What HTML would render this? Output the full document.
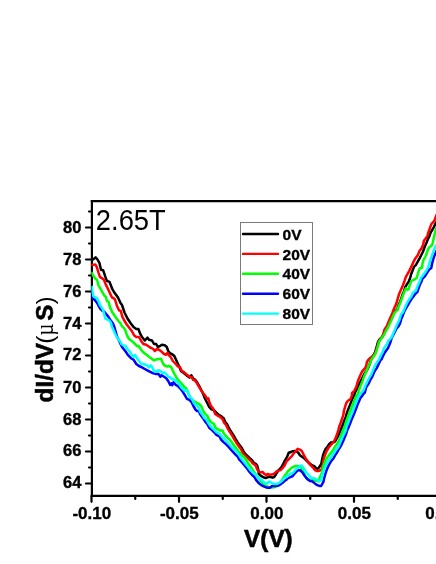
<!DOCTYPE html>
<html><head><meta charset="utf-8"><title>dI/dV vs V at 2.65T</title>
<style>
html,body{margin:0;padding:0;background:#fff;}
body{width:436px;height:564px;overflow:hidden;position:relative;font-family:"Liberation Sans",sans-serif;}
svg{position:absolute;left:0;top:0;display:block;}
text{font-family:"Liberation Sans",sans-serif;fill:#000;}
.tl{font-size:17px;font-weight:bold;stroke:#000;stroke-width:0.35px;}
.yt{font-size:16.5px;font-weight:bold;stroke:#000;stroke-width:0.35px;}
.lg{font-size:15.5px;font-weight:bold;stroke:#000;stroke-width:0.35px;}
.ttl{font-size:28px;}
.xl{font-size:24.3px;font-weight:bold;stroke:#000;stroke-width:0.55px;}
.yl{font-size:24.3px;font-weight:bold;stroke:#000;stroke-width:0.5px;}
.yr{font-size:24.3px;font-weight:normal;}
.mu{font-family:"Liberation Serif",serif;font-size:26px;font-weight:normal;}
</style></head><body>
<svg width="436" height="564" viewBox="0 0 436 564" style="will-change:transform">
<defs><clipPath id="pc"><rect x="91.4" y="201" width="360" height="295"/></clipPath></defs>
<rect x="0" y="0" width="436" height="564" fill="#fff"/>
<line x1="91.9" y1="200.1" x2="91.9" y2="497.1" stroke="#000" stroke-width="2.2"/>
<line x1="90.8" y1="201.2" x2="436" y2="201.2" stroke="#000" stroke-width="2.2"/>
<line x1="90.8" y1="495.9" x2="436" y2="495.9" stroke="#000" stroke-width="2.2"/>
<line x1="86" y1="483.5" x2="92" y2="483.5" stroke="#000" stroke-width="2.2" stroke-linecap="round"/>
<text x="81.4" y="488.1" text-anchor="end" class="yt">64</text>
<line x1="89" y1="467.5" x2="92" y2="467.5" stroke="#000" stroke-width="2.2" stroke-linecap="round"/>
<line x1="86" y1="451.5" x2="92" y2="451.5" stroke="#000" stroke-width="2.2" stroke-linecap="round"/>
<text x="81.4" y="455.9" text-anchor="end" class="yt">66</text>
<line x1="89" y1="435.5" x2="92" y2="435.5" stroke="#000" stroke-width="2.2" stroke-linecap="round"/>
<line x1="86" y1="419.5" x2="92" y2="419.5" stroke="#000" stroke-width="2.2" stroke-linecap="round"/>
<text x="81.4" y="424.7" text-anchor="end" class="yt">68</text>
<line x1="89" y1="403.5" x2="92" y2="403.5" stroke="#000" stroke-width="2.2" stroke-linecap="round"/>
<line x1="86" y1="387.5" x2="92" y2="387.5" stroke="#000" stroke-width="2.2" stroke-linecap="round"/>
<text x="81.4" y="392.6" text-anchor="end" class="yt">70</text>
<line x1="89" y1="371.5" x2="92" y2="371.5" stroke="#000" stroke-width="2.2" stroke-linecap="round"/>
<line x1="86" y1="355.5" x2="92" y2="355.5" stroke="#000" stroke-width="2.2" stroke-linecap="round"/>
<text x="81.4" y="360.4" text-anchor="end" class="yt">72</text>
<line x1="89" y1="339.5" x2="92" y2="339.5" stroke="#000" stroke-width="2.2" stroke-linecap="round"/>
<line x1="86" y1="323.5" x2="92" y2="323.5" stroke="#000" stroke-width="2.2" stroke-linecap="round"/>
<text x="81.4" y="328.6" text-anchor="end" class="yt">74</text>
<line x1="89" y1="307.5" x2="92" y2="307.5" stroke="#000" stroke-width="2.2" stroke-linecap="round"/>
<line x1="86" y1="291.5" x2="92" y2="291.5" stroke="#000" stroke-width="2.2" stroke-linecap="round"/>
<text x="81.4" y="297.0" text-anchor="end" class="yt">76</text>
<line x1="89" y1="275.5" x2="92" y2="275.5" stroke="#000" stroke-width="2.2" stroke-linecap="round"/>
<line x1="86" y1="259.5" x2="92" y2="259.5" stroke="#000" stroke-width="2.2" stroke-linecap="round"/>
<text x="81.4" y="265.0" text-anchor="end" class="yt">78</text>
<line x1="89" y1="243.5" x2="92" y2="243.5" stroke="#000" stroke-width="2.2" stroke-linecap="round"/>
<line x1="86" y1="227.5" x2="92" y2="227.5" stroke="#000" stroke-width="2.2" stroke-linecap="round"/>
<text x="81.4" y="233.1" text-anchor="end" class="yt">80</text>
<line x1="89" y1="211.5" x2="92" y2="211.5" stroke="#000" stroke-width="2.2" stroke-linecap="round"/>
<line x1="91.5" y1="496" x2="91.5" y2="501.8" stroke="#000" stroke-width="2.2" stroke-linecap="round"/>
<text x="91.8" y="519.0" text-anchor="middle" class="tl">-0.10</text>
<line x1="135.25" y1="496" x2="135.25" y2="498.9" stroke="#000" stroke-width="2.2" stroke-linecap="round"/>
<line x1="179.0" y1="496" x2="179.0" y2="501.8" stroke="#000" stroke-width="2.2" stroke-linecap="round"/>
<text x="179.3" y="519.0" text-anchor="middle" class="tl">-0.05</text>
<line x1="222.75" y1="496" x2="222.75" y2="498.9" stroke="#000" stroke-width="2.2" stroke-linecap="round"/>
<line x1="266.5" y1="496" x2="266.5" y2="501.8" stroke="#000" stroke-width="2.2" stroke-linecap="round"/>
<text x="266.8" y="519.0" text-anchor="middle" class="tl">0.00</text>
<line x1="310.25" y1="496" x2="310.25" y2="498.9" stroke="#000" stroke-width="2.2" stroke-linecap="round"/>
<line x1="354.0" y1="496" x2="354.0" y2="501.8" stroke="#000" stroke-width="2.2" stroke-linecap="round"/>
<text x="354.3" y="519.0" text-anchor="middle" class="tl">0.05</text>
<line x1="397.75" y1="496" x2="397.75" y2="498.9" stroke="#000" stroke-width="2.2" stroke-linecap="round"/>
<line x1="441.5" y1="496" x2="441.5" y2="501.8" stroke="#000" stroke-width="2.2" stroke-linecap="round"/>
<text x="441.8" y="519.0" text-anchor="middle" class="tl">0.10</text>
<g clip-path="url(#pc)">
<polyline points="91.0,260.2 92.5,259.8 95.6,257.4 97.5,259.5 99.4,262.8 101.0,269.7 103.1,270.2 105.3,276.6 106.9,280.9 109.5,281.9 112.2,288.8 114.0,292.0 118.0,297.5 120.5,303.0 122.0,305.0 124.5,312.5 127.5,318.5 130.5,323.0 133.5,327.0 136.3,329.0 138.4,329.0 140.0,333.4 142.0,337.0 144.8,340.5 147.5,337.7 149.0,339.8 152.0,340.5 154.0,344.0 156.2,344.0 157.8,347.0 159.7,346.2 161.8,344.8 164.7,345.2 166.8,347.0 168.2,351.0 170.4,353.5 172.5,354.5 174.3,356.0 176.4,360.6 178.0,364.0 179.6,367.6 181.1,371.2 183.8,373.0 186.6,375.4 189.5,377.6 191.3,375.3 193.2,378.5 195.0,379.5 197.2,382.5 199.2,386.0 201.2,390.0 203.0,393.5 204.8,398.2 207.0,402.5 209.2,407.0 211.0,409.0 213.5,410.0 218.8,414.9 221.1,416.1 223.8,418.5 225.0,421.7 227.0,424.1 228.6,427.4 230.2,430.2 231.8,432.6 233.6,435.4 235.4,438.6 237.1,441.4 238.6,443.8 240.1,445.8 242.1,448.6 243.7,451.9 246.3,455.0 248.5,457.0 250.4,458.8 252.2,460.4 253.5,462.5 255.5,463.7 257.1,465.3 258.5,470.5 258.8,473.9 260.6,475.6 262.9,477.0 265.6,478.1 268.1,477.0 270.1,476.8 272.5,477.7 274.1,477.0 275.6,475.0 277.0,472.5 279.0,469.8 281.3,467.3 283.3,463.9 285.0,460.3 287.1,456.9 288.7,452.8 291.1,452.0 292.7,451.2 295.0,451.0 296.8,451.5 298.3,452.8 299.9,455.2 302.4,456.9 304.5,458.5 306.5,460.5 308.5,462.5 310.4,464.0 312.3,465.3 314.2,466.2 316.0,468.2 317.6,468.8 319.1,467.3 321.3,464.0 322.2,459.1 323.1,455.1 324.2,452.0 325.7,448.9 327.5,446.7 329.3,444.0 331.0,442.5 332.8,442.2 334.3,442.0 335.1,441.3 337.0,438.1 338.6,434.9 340.1,431.7 341.5,428.0 343.0,424.3 344.3,420.5 345.9,416.8 346.8,413.1 348.2,409.4 349.7,405.6 351.2,401.9 352.6,398.4 354.3,395.3 354.8,393.0 356.6,389.5 358.3,386.0 360.3,382.0 362.3,378.0 364.3,374.0 366.3,371.0 368.1,368.0 369.3,365.0 371.8,357.7 373.6,355.0 375.0,352.4 376.0,349.2 377.1,345.4 378.1,341.7 379.7,339.1 382.2,336.9 384.0,333.7 385.8,330.0 387.7,326.8 389.3,323.1 390.9,319.9 392.5,316.2 393.9,313.0 395.6,310.9 397.5,309.3 398.1,306.1 399.6,302.9 400.8,300.0 402.4,294.8 404.2,291.0 405.1,287.3 407.0,284.1 408.8,281.5 410.2,277.8 411.2,274.0 412.7,270.3 414.1,266.6 415.9,265.0 417.6,261.8 419.7,258.1 421.3,255.0 422.9,251.8 424.3,248.0 425.7,244.4 426.9,241.7 427.9,239.1 429.5,235.9 430.6,232.7 432.5,229.5 434.1,226.6 435.4,223.9 437.0,221.0" fill="none" stroke="#000" stroke-width="2.5" stroke-linejoin="round" stroke-linecap="butt"/>
<polyline points="91.0,265.0 93.0,264.9 95.2,264.4 96.8,267.0 98.4,272.3 100.0,277.1 102.0,278.2 104.0,279.8 105.8,284.6 107.9,288.8 110.1,293.6 111.9,297.3 113.8,298.4 115.0,299.5 117.0,306.0 119.0,310.3 120.8,311.0 122.3,316.6 124.0,320.0 126.4,324.0 129.2,327.7 132.0,331.3 134.2,335.5 136.3,337.0 139.0,337.0 141.3,341.2 143.4,344.0 146.2,344.8 148.4,346.2 150.5,347.6 153.3,349.0 154.8,351.0 156.9,349.0 159.0,349.7 161.8,351.8 164.0,354.0 166.0,354.7 167.5,352.8 169.0,355.4 171.0,357.5 172.8,361.0 175.7,364.0 177.8,366.3 180.0,367.0 181.5,370.6 184.2,372.4 187.0,374.8 189.9,377.0 191.6,376.9 193.0,379.8 194.8,380.2 197.0,383.3 199.0,386.9 201.2,390.4 203.3,393.3 205.5,396.0 206.9,398.8 208.3,398.4 209.2,401.8 211.0,406.0 213.3,408.9 215.2,414.0 217.7,415.6 220.0,416.8 222.7,419.2 223.9,422.4 225.9,424.8 227.5,428.1 229.1,430.9 230.7,433.3 232.5,436.1 234.3,439.3 236.0,442.1 237.5,444.5 239.0,446.5 241.0,449.3 242.6,452.6 245.2,455.7 247.4,457.7 249.3,459.5 251.1,461.1 252.4,463.2 254.4,464.4 256.0,466.0 257.0,469.1 258.6,471.5 260.6,472.5 262.5,471.9 264.3,473.9 266.0,474.8 267.9,473.9 269.7,474.8 272.0,474.6 274.6,473.5 276.3,471.7 278.2,470.6 280.5,470.1 282.5,468.1 284.6,465.5 286.3,461.7 287.9,460.0 290.3,457.7 291.9,456.0 293.5,453.6 295.9,451.2 297.7,448.8 299.9,449.6 301.8,451.0 304.0,455.3 306.2,459.3 308.0,461.7 309.8,464.4 312.0,466.6 313.8,468.4 315.1,470.2 316.9,471.0 318.6,471.0 321.7,469.7 322.6,465.3 323.3,461.3 324.2,457.3 325.3,454.2 326.6,451.1 328.4,448.0 330.2,445.8 332.2,443.5 333.8,441.6 334.5,440.2 335.8,437.6 337.2,433.8 338.3,430.1 339.3,426.4 340.7,422.7 342.0,418.9 343.3,415.2 343.9,411.0 345.0,407.2 346.1,403.5 347.7,400.9 350.8,398.7 351.8,395.5 352.1,392.8 354.3,390.8 356.4,386.6 358.0,380.7 360.1,375.7 362.2,371.4 364.4,368.9 366.1,366.4 366.9,362.0 368.2,360.0 369.5,358.5 371.5,357.0 373.5,355.5 375.2,353.0 376.5,349.5 377.6,345.7 378.7,342.0 380.3,339.4 382.2,337.0 383.4,333.8 384.4,329.8 386.8,326.1 388.6,321.8 390.4,317.6 392.3,313.3 393.9,309.0 396.0,304.3 397.4,300.0 399.2,293.7 401.1,289.5 402.9,285.2 404.5,281.0 405.8,277.2 407.5,274.0 409.3,270.9 411.1,267.1 413.0,262.9 414.9,259.1 417.6,255.4 419.5,251.0 421.4,248.5 423.1,244.9 423.9,240.7 425.6,238.6 427.4,235.9 428.4,232.2 430.0,227.9 431.3,224.2 432.7,222.6 434.3,221.0 435.4,217.8 437.0,214.0" fill="none" stroke="#f00" stroke-width="2.5" stroke-linejoin="round" stroke-linecap="butt"/>
<polyline points="91.0,272.3 92.0,273.2 93.6,276.3 95.5,278.7 97.0,279.8 98.4,285.1 100.5,288.8 102.6,292.6 104.4,295.7 105.8,296.8 106.9,301.0 108.5,301.6 110.0,307.4 110.8,309.0 112.0,311.7 114.8,316.0 118.4,321.0 120.5,323.3 122.0,326.3 124.3,328.4 125.7,331.3 127.0,335.5 129.2,339.0 132.0,341.2 135.0,344.0 137.0,346.2 138.6,346.0 140.6,349.0 142.7,351.8 145.5,354.0 149.0,356.8 152.0,359.0 154.0,360.4 156.2,359.4 159.0,359.0 161.0,358.7 161.9,361.0 163.3,364.0 165.4,366.0 167.5,366.5 169.0,366.0 171.0,366.9 172.4,369.8 174.2,373.6 176.3,377.2 178.5,380.5 181.3,383.3 184.2,386.9 186.3,388.5 187.5,391.0 188.6,394.2 190.0,397.0 192.0,399.3 194.0,401.5 197.0,402.8 199.0,404.0 201.2,406.0 202.8,410.0 204.8,413.6 207.2,415.6 208.4,418.4 210.0,421.2 212.0,422.8 214.0,424.0 215.2,427.3 217.3,428.9 219.7,430.5 222.5,430.5 223.7,433.3 225.7,435.7 228.1,438.1 230.5,440.5 232.5,443.3 234.5,446.1 236.5,448.5 238.2,451.0 240.0,453.1 242.1,455.7 244.3,457.2 246.2,459.8 248.0,462.9 250.1,466.0 252.2,469.1 253.9,471.7 255.5,474.0 257.5,476.8 259.4,479.4 261.5,482.0 263.5,484.1 265.8,485.6 268.0,486.8 270.0,487.5 272.0,487.5 275.1,486.9 277.5,486.0 279.5,484.0 281.5,481.0 283.0,478.5 284.5,476.0 286.3,473.7 287.9,471.3 290.3,469.2 291.9,467.6 294.3,466.5 295.9,466.0 298.0,466.0 300.0,466.8 302.0,469.0 304.0,473.0 305.6,476.9 307.2,479.3 309.5,480.0 312.0,480.0 315.0,480.5 317.5,481.0 319.3,480.5 319.5,478.0 321.9,472.8 322.8,468.0 324.2,463.5 325.7,460.0 327.5,457.3 329.3,454.6 331.3,452.4 333.3,449.8 334.6,447.1 336.2,445.0 337.5,443.2 339.3,440.2 340.7,436.5 342.0,432.8 343.6,429.0 345.2,425.3 346.1,421.6 347.4,417.9 348.9,414.1 350.3,410.7 351.7,407.2 353.2,403.5 354.6,399.8 356.0,396.5 357.7,394.2 359.0,390.0 360.6,385.8 362.7,380.7 364.4,375.7 366.4,371.4 368.1,367.2 370.6,362.2 371.0,360.0 372.7,358.0 374.5,355.3 375.9,352.7 376.9,349.5 378.0,345.7 379.0,342.0 380.6,339.4 382.6,337.2 384.4,334.0 386.2,330.3 388.1,327.1 389.7,323.4 391.3,320.2 392.9,316.5 394.3,313.3 396.0,311.2 397.9,309.6 398.5,306.4 400.0,303.2 401.2,300.3 402.6,295.9 404.7,291.0 405.8,288.4 407.5,289.8 408.8,288.9 409.6,285.2 411.4,281.0 413.0,280.2 415.1,279.1 416.7,277.8 417.8,274.0 418.9,270.3 419.9,268.2 422.1,267.7 422.4,263.9 423.4,260.2 425.5,256.5 426.9,252.8 428.2,248.8 429.8,246.7 431.7,245.5 432.8,242.6 433.5,239.3 434.5,234.8 435.4,231.1 437.0,226.5" fill="none" stroke="#0f0" stroke-width="2.5" stroke-linejoin="round" stroke-linecap="butt"/>
<polyline points="91.0,291.0 91.6,293.0 93.0,298.4 95.0,300.2 97.3,303.2 98.9,306.4 100.5,309.0 102.5,310.8 104.0,311.5 106.0,313.8 108.6,317.0 110.0,319.5 111.5,321.5 113.0,323.5 114.5,327.5 115.8,332.0 117.0,336.5 119.0,340.5 120.5,344.0 122.0,347.0 124.0,349.5 126.0,352.1 127.8,354.8 131.3,358.5 133.5,359.6 136.3,364.0 139.0,366.0 142.0,367.4 144.8,369.0 147.7,370.6 149.8,371.7 153.3,373.4 156.2,374.0 158.3,373.8 160.4,376.7 161.8,375.2 164.0,376.7 166.0,378.0 168.2,381.0 170.2,385.0 171.4,383.3 172.2,385.3 173.5,382.2 175.7,384.8 177.8,386.0 180.0,388.3 182.8,391.8 185.0,395.4 187.0,399.0 189.0,399.6 191.3,401.8 193.4,406.0 195.5,409.6 197.0,411.0 199.0,411.0 200.0,414.0 203.2,418.4 205.2,421.6 207.2,424.0 209.2,427.7 212.0,430.1 214.4,432.5 216.5,434.9 219.5,436.5 221.1,439.7 223.5,442.1 225.9,444.1 228.3,446.5 230.3,448.9 232.1,450.8 233.7,452.6 235.8,455.0 237.5,456.4 239.2,459.5 240.9,461.2 243.7,464.4 246.8,468.1 249.3,471.7 251.9,474.8 254.4,477.0 256.0,479.9 258.6,483.0 261.2,485.1 264.3,486.6 266.8,487.7 269.9,487.7 272.0,486.1 275.1,486.1 278.2,485.6 280.8,484.1 283.3,482.2 285.0,480.5 286.3,479.8 287.9,478.2 290.3,477.2 292.7,476.1 294.3,474.0 295.9,472.1 298.0,470.2 300.0,470.3 302.4,472.4 304.4,475.5 306.0,477.5 308.0,479.5 310.0,481.0 312.0,481.3 313.8,482.6 316.0,484.4 317.9,485.4 320.0,486.0 321.1,486.0 323.3,482.1 324.2,478.2 325.3,474.2 326.6,470.2 328.1,466.6 329.7,463.5 331.3,460.9 333.6,458.2 335.2,455.1 337.0,452.5 338.7,449.5 340.3,446.8 341.9,443.8 343.3,440.7 344.7,437.2 346.2,433.7 347.1,430.6 348.7,427.0 350.1,423.5 351.4,420.0 352.9,416.5 354.4,413.0 355.9,409.0 357.4,405.0 358.9,401.5 360.3,398.2 362.0,396.0 363.5,393.8 364.9,392.5 366.1,387.4 368.3,384.1 370.3,379.9 372.3,376.5 374.5,371.4 376.7,368.1 378.7,363.9 380.7,359.7 381.5,359.6 382.8,356.4 384.4,353.2 386.2,350.5 388.1,347.9 389.4,344.7 390.7,341.5 391.6,338.0 393.3,335.0 394.8,332.0 396.4,328.7 398.6,326.1 400.2,322.9 401.2,319.1 402.8,315.4 404.4,311.2 406.5,307.4 408.5,304.0 410.2,301.0 411.8,298.5 413.9,295.9 415.4,293.7 417.3,292.1 418.6,288.4 419.9,284.7 421.3,282.0 422.6,278.3 424.5,276.7 426.3,274.0 427.9,271.4 429.5,269.3 431.3,267.9 432.0,263.9 433.0,260.2 434.3,256.0 435.9,252.2 437.0,250.0" fill="none" stroke="#00f" stroke-width="2.5" stroke-linejoin="round" stroke-linecap="butt"/>
<polyline points="91.5,286.0 92.0,287.3 92.4,292.0 93.4,296.3 96.6,297.9 98.4,301.0 100.0,305.3 102.0,308.0 103.5,311.2 104.4,314.9 105.4,318.6 107.6,319.7 109.5,320.7 111.0,322.9 111.8,326.6 113.4,329.8 115.0,333.5 116.6,336.7 118.4,339.4 120.1,341.5 121.6,344.3 123.5,345.5 125.5,346.0 127.5,349.3 130.0,351.8 132.0,355.4 133.5,356.8 135.0,355.0 137.0,358.2 139.0,361.0 141.3,363.6 144.0,364.3 147.0,365.3 149.0,367.4 150.5,365.3 152.0,366.7 154.0,371.0 156.2,371.7 158.3,370.3 160.4,371.0 162.5,373.0 164.0,372.4 166.0,373.8 168.2,376.7 170.2,377.5 172.0,379.0 174.3,379.8 176.4,381.2 179.2,384.0 181.3,387.6 183.5,389.7 185.0,391.0 187.0,390.4 188.4,394.0 189.9,396.8 192.0,399.0 194.0,403.2 197.0,406.0 199.0,408.2 200.0,411.6 202.4,414.8 204.4,418.0 206.4,419.6 208.4,423.2 210.4,426.0 212.4,428.0 214.8,430.5 216.9,432.5 219.3,433.7 221.8,436.5 224.2,438.5 226.2,440.9 228.6,443.7 230.8,446.0 233.1,448.5 235.7,450.6 238.1,453.6 240.5,457.4 242.9,460.5 245.3,463.6 248.0,466.7 250.0,469.6 252.4,472.2 255.0,474.1 257.0,476.3 259.1,478.4 261.5,479.9 263.5,482.0 265.6,483.5 267.7,482.8 269.4,481.5 271.0,482.5 273.0,483.8 275.6,484.0 278.2,483.5 280.5,482.0 282.5,480.1 284.6,478.0 286.3,477.2 288.7,475.3 290.3,474.0 292.7,472.9 294.3,471.3 295.9,469.2 298.3,467.6 299.9,466.0 301.5,465.4 303.2,467.6 304.8,470.2 306.4,472.9 308.0,474.2 310.0,476.8 312.0,478.2 314.0,478.3 316.0,478.9 317.6,480.4 319.1,481.7 321.3,479.5 322.4,475.0 323.7,470.6 325.3,466.6 326.9,463.5 328.4,460.9 330.2,458.6 332.2,455.5 334.1,452.9 335.5,450.2 337.2,448.5 338.8,446.1 339.8,443.4 341.1,440.2 342.5,437.0 344.1,433.8 345.7,430.6 346.4,426.9 347.9,423.2 349.3,419.5 350.9,415.7 352.4,412.0 353.8,408.3 355.3,404.6 356.7,400.9 357.9,397.7 359.2,395.5 361.0,393.3 363.6,390.0 365.3,385.8 366.9,382.4 369.0,378.2 371.1,374.8 373.2,369.8 375.0,365.6 377.0,362.2 378.5,360.3 379.4,358.5 380.9,355.3 382.6,352.1 383.8,348.4 385.4,346.3 387.0,344.1 388.1,341.0 389.7,339.6 391.1,337.8 392.6,335.1 393.9,331.9 395.3,328.7 396.6,325.5 397.9,322.9 399.3,320.2 400.0,317.6 401.1,314.4 403.0,312.2 404.3,309.0 405.6,305.9 407.2,302.7 408.7,300.0 409.8,298.5 411.4,296.4 412.8,292.7 414.6,291.6 416.2,290.0 417.3,286.8 418.6,283.6 419.9,281.0 421.0,277.8 422.4,276.2 423.9,274.0 425.6,271.9 427.1,269.3 428.4,266.6 429.5,262.9 430.6,259.1 432.0,255.4 433.4,251.2 434.8,248.0 437.0,244.5" fill="none" stroke="#0ff" stroke-width="2.5" stroke-linejoin="round" stroke-linecap="butt"/>
</g>
<rect x="240.5" y="222.5" width="72" height="102" fill="#fff" stroke="#7a7a7a" stroke-width="1"/>
<line x1="243" y1="234.00" x2="278" y2="234.00" stroke="#000" stroke-width="2.4" stroke-linecap="round"/>
<text x="282.6" y="239.80" class="lg">0V</text>
<line x1="243" y1="253.90" x2="278" y2="253.90" stroke="#f00" stroke-width="2.4" stroke-linecap="round"/>
<text x="282.6" y="259.58" class="lg">20V</text>
<line x1="243" y1="273.80" x2="278" y2="273.80" stroke="#0f0" stroke-width="2.4" stroke-linecap="round"/>
<text x="282.6" y="279.36" class="lg">40V</text>
<line x1="243" y1="293.70" x2="278" y2="293.70" stroke="#00f" stroke-width="2.4" stroke-linecap="round"/>
<text x="282.6" y="299.14" class="lg">60V</text>
<line x1="243" y1="313.60" x2="278" y2="313.60" stroke="#0ff" stroke-width="2.4" stroke-linecap="round"/>
<text x="282.6" y="318.92" class="lg">80V</text>
<text transform="translate(95.85,229.7) scale(0.976,1.04)" class="ttl">2.65T</text>
<text x="268.4" y="546.6" text-anchor="middle" class="xl">V(V)</text>
<g transform="translate(53.1,402.4) rotate(-90)">
<text x="0" y="0" class="yl">dI/dV</text>
<text x="58.7" y="0" class="yr">(</text>
<text transform="translate(66.8,0) scale(0.79,1)" class="mu">µ</text>
<text x="81.7" y="0" class="yl">S</text>
<text x="97.8" y="0" class="yr">)</text>
</g>
</svg>
</body></html>
